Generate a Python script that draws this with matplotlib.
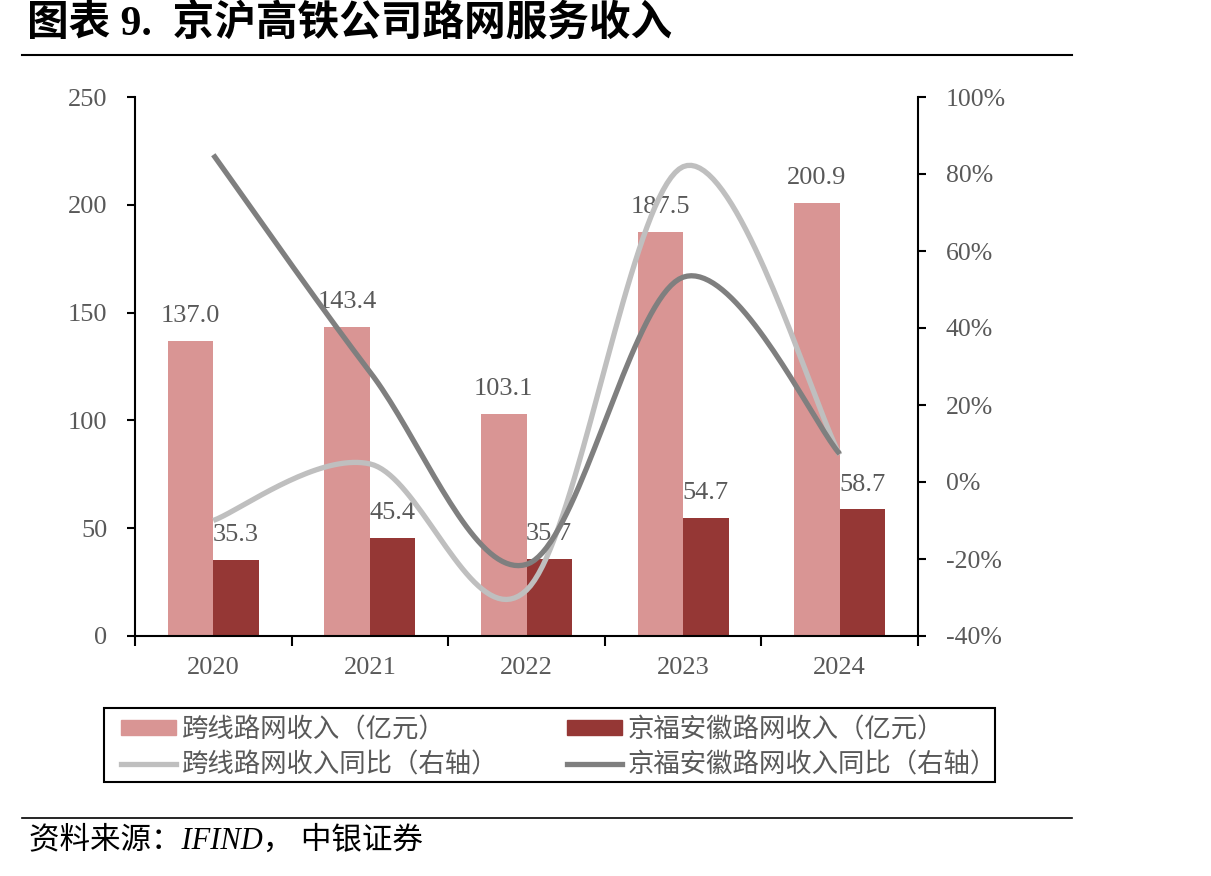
import numpy as np
import matplotlib
matplotlib.use("Agg")
import matplotlib.pyplot as plt
from matplotlib.lines import Line2D
from matplotlib.patches import Patch, Rectangle

plt.rcParams['font.family'] = ['Liberation Serif', 'Noto Sans CJK SC']

years = ['2020', '2021', '2022', '2023', '2024']
cross_rev = [137.0, 143.4, 103.1, 187.5, 200.9]
jfah_rev = [35.3, 45.4, 35.7, 54.7, 58.7]
cross_yoy = [-10.0, 4.7, -28.1, 81.9, 7.1]
jfah_yoy = [85.0, 28.6, -21.4, 53.2, 7.3]

title = '图表 9.  京沪高铁公司路网服务收入'
source = '资料来源：IFIND， 中银证券'
leg_labels = ['跨线路网收入（亿元）', '跨线路网收入同比（右轴）',
              '京福安徽路网收入（亿元）', '京福安徽路网收入同比（右轴）']

c_pink = '#D99594'
c_dark = '#953735'
c_lgray = '#BFBFBF'
c_dgray = '#7F7F7F'
c_text = '#595959'
fs = 19

def smooth(xs, ys, n=40):
    xs = np.asarray(xs, float); ys = np.asarray(ys, float)
    P = np.column_stack([xs, ys])
    out = []
    for i in range(len(P) - 1):
        p0 = P[i - 1] if i > 0 else P[i]
        p1 = P[i]; p2 = P[i + 1]
        p3 = P[i + 2] if i + 2 < len(P) else P[i + 1]
        c1 = p1 + (p2 - p0) / 6.0
        c2 = p2 - (p3 - p1) / 6.0
        t = np.linspace(0, 1, n)[:, None]
        seg = (1 - t) ** 3 * p1 + 3 * (1 - t) ** 2 * t * c1 + 3 * (1 - t) * t ** 2 * c2 + t ** 3 * p2
        out.append(seg if i == 0 else seg[1:])
    out = np.vstack(out)
    return out[:, 0], out[:, 1]

W, H = 1211, 876
fig = plt.figure(figsize=(W/100, H/100), dpi=100)
ax = fig.add_axes([135/W, 1-636/H, (918-135)/W, (636-97)/H])
ax2 = ax.twinx()

x = np.arange(len(years))
w = 0.29
ax.bar(x - w/2, cross_rev, w, color=c_pink, zorder=2)
ax.bar(x + w/2, jfah_rev, w, color=c_dark, zorder=2)
for xi, v in zip(x, cross_rev):
    ax.annotate(f'{v:.1f}', (xi - w/2, v), xytext=(0, 10), textcoords='offset points',
                ha='center', va='bottom', fontsize=fs, color=c_text, zorder=5)
for xi, v in zip(x, jfah_rev):
    ax.annotate(f'{v:.1f}', (xi + w/2, v), xytext=(0, 10), textcoords='offset points',
                ha='center', va='bottom', fontsize=fs, color=c_text, zorder=5)

ax.set_xlim(-0.5, len(years) - 0.5)
ax.set_ylim(0, 250)
ax.set_yticks([0, 50, 100, 150, 200, 250])
ax.set_xticks(x)
ax.set_xticklabels(years)
ax.set_xticks(np.arange(-0.5, len(years)), minor=True)
ax.tick_params(axis='x', which='major', length=0, pad=15, labelsize=fs, labelcolor=c_text)
ax.tick_params(axis='x', which='minor', length=7, width=1.5, direction='out', color='black')
ax.tick_params(axis='y', length=6, width=1.5, direction='out', labelsize=fs, labelcolor=c_text, pad=14)

sx, sy = smooth(x, cross_yoy)
ax2.plot(sx, sy, color=c_lgray, lw=3.8, solid_capstyle='butt', zorder=3)
sx, sy = smooth(x, jfah_yoy)
ax2.plot(sx, sy, color=c_dgray, lw=3.8, solid_capstyle='butt', zorder=3)
ax2.set_ylim(-40, 100)
ax2.set_yticks(np.arange(-40, 101, 20))
ax2.set_yticklabels([f'{v}%' for v in range(-40, 101, 20)])
ax2.tick_params(axis='y', length=6, width=1.5, direction='out', labelsize=18.5, labelcolor=c_text, pad=14)

for a in (ax, ax2):
    a.spines['top'].set_visible(False)
    for s in ('left', 'right', 'bottom'):
        a.spines[s].set_linewidth(1.5)
ax2.spines['left'].set_visible(False)
ax.spines['right'].set_visible(False)
ax2.spines['bottom'].set_visible(False)

# Title and source
fig.text(27/W, 1-23/H, title, fontsize=30, fontweight='bold', ha='left', va='center',
         family=['Liberation Serif', 'Noto Sans CJK SC'])
fig.add_artist(Line2D([22/W, 1072/W], [1-55/H, 1-55/H], color='black', lw=1.5))
fig.add_artist(Line2D([22/W, 1072/W], [1-818/H, 1-818/H], color='black', lw=1.2))
fig.text(29/W, 1-841/H, source, fontsize=22, style='italic', ha='left', va='center',
         family=['Liberation Serif', 'Noto Sans CJK SC'])

# Legend
fig.add_artist(Rectangle((104/W, 1-782/H), (995-104)/W, (782-708)/H, transform=fig.transFigure,
                         fill=False, edgecolor='black', lw=1.5))
handles = [Patch(color=c_pink), Line2D([], [], color=c_lgray, lw=3.8),
           Patch(color=c_dark), Line2D([], [], color=c_dgray, lw=3.8)]
leg = fig.legend(handles, leg_labels, ncol=2, loc='upper left',
                 bbox_to_anchor=(121/W, 1-717/H),
                 frameon=False,
                 fontsize=fs, handlelength=2.1, handleheight=0.5, handletextpad=0.2,
                 borderaxespad=0, columnspacing=2.6,
                 labelspacing=0.38, borderpad=0)
for t in leg.get_texts():
    t.set_color(c_text)

fig.savefig('out.png', dpi=100)
